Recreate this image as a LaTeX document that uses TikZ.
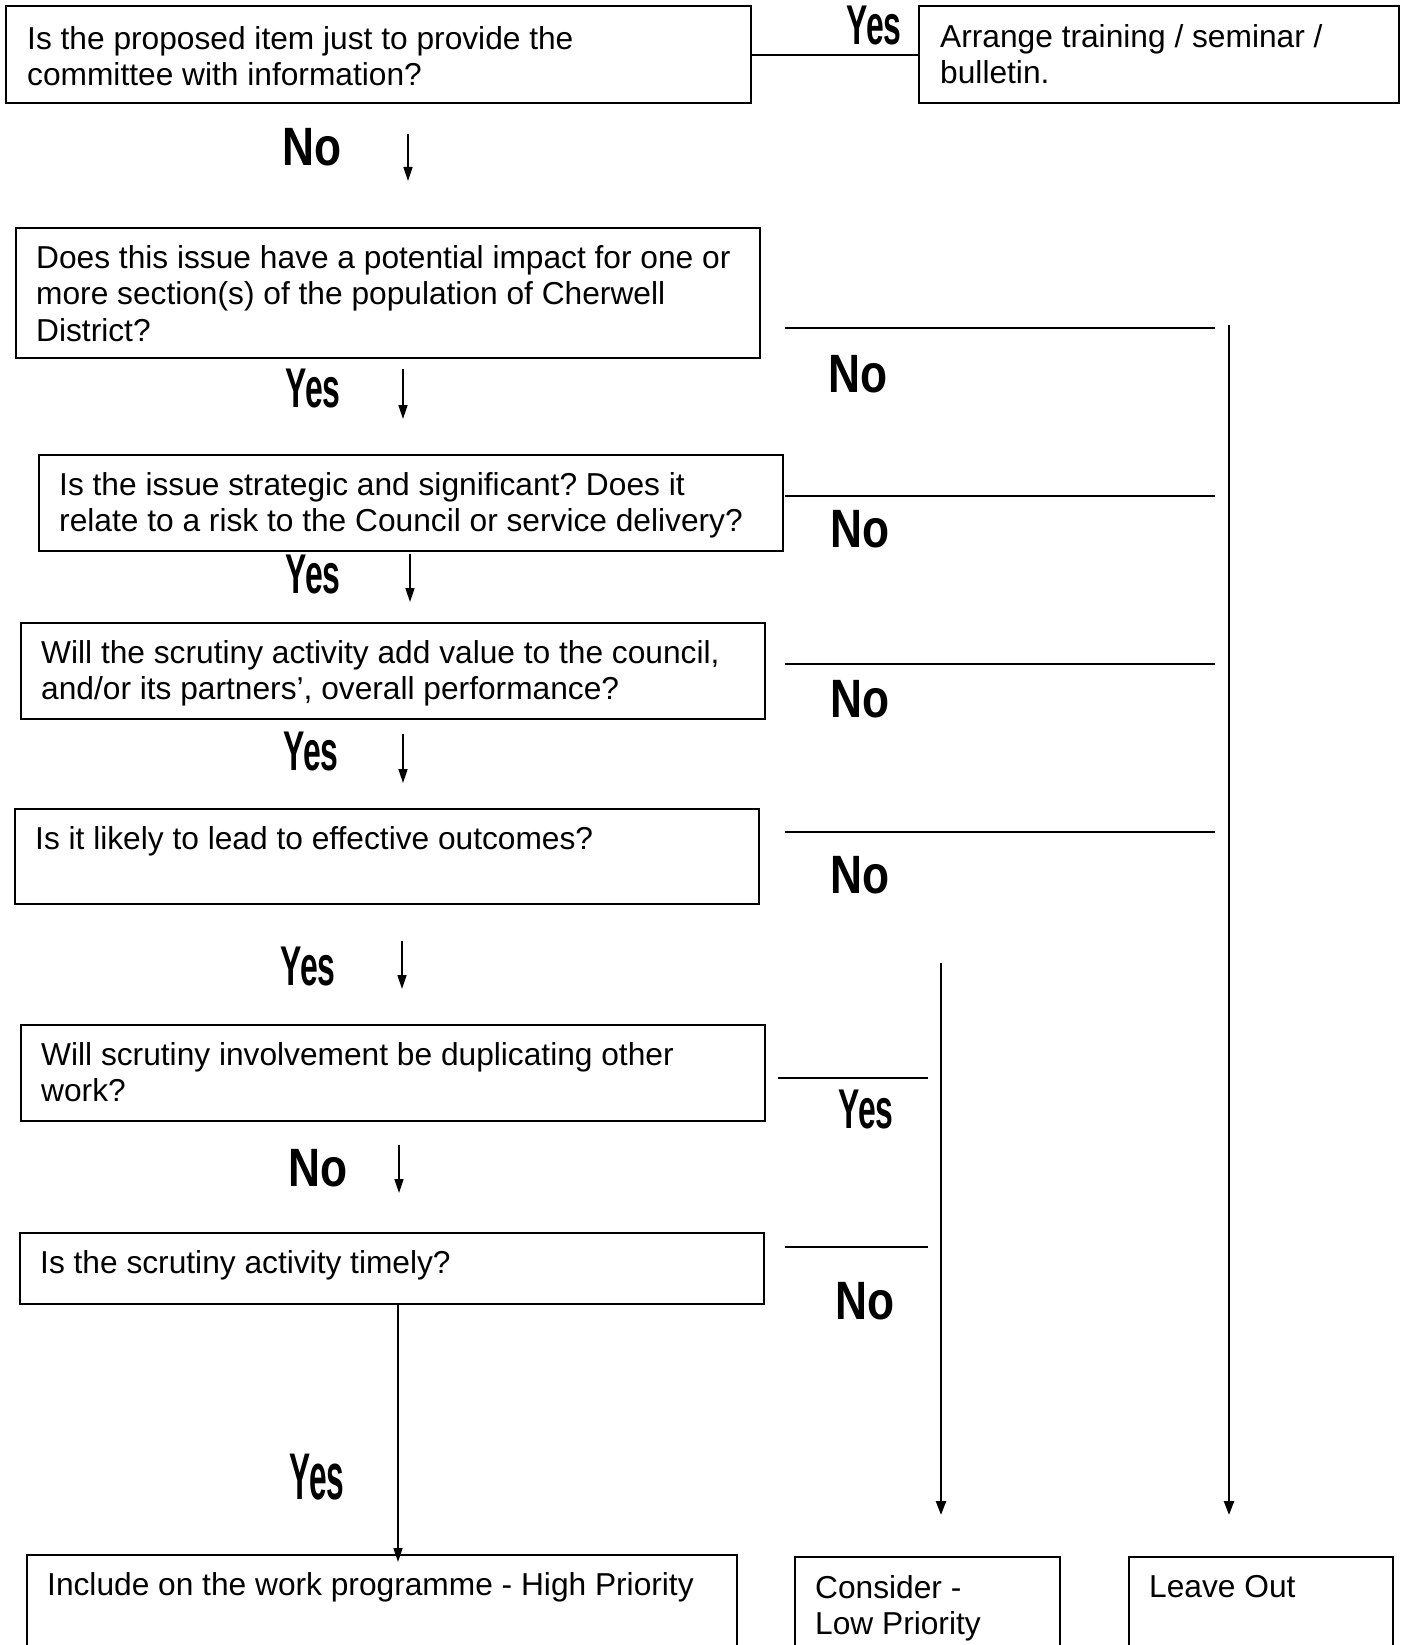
\documentclass[tikz,border=0pt]{standalone}
\usepackage{fontspec}
\setmainfont{Liberation Sans}
\newfontfamily\yesfont{Liberation Sans}[FakeStretch=0.57]
\newfontfamily\bigyesfont{Liberation Sans}[FakeStretch=0.48]
\newfontfamily\nofont{Liberation Sans}[FakeStretch=0.82]
\usetikzlibrary{arrows.meta}
\frenchspacing
\tikzset{
  box/.style={draw, line width=1.8pt, inner sep=0pt, anchor=north west},
  txt/.style={font=\fontsize{31.7}{36.7}\selectfont, align=left, anchor=north west, inner sep=0pt},
  nolab/.style={font=\nofont\bfseries\fontsize{54}{60}\selectfont, inner sep=0pt},
  yeslab/.style={font=\yesfont\bfseries\fontsize{56}{60}\selectfont, inner sep=0pt},
  bigyeslab/.style={font=\bigyesfont\bfseries\fontsize{66}{70}\selectfont, inner sep=0pt},
  ln/.style={line width=1.8pt},
  vln/.style={line width=2.4pt, -{Triangle[length=14pt,width=10pt]}},
  arr/.style={line width=1.6pt, -{Triangle[length=14pt,width=9pt]}}
}
\begin{document}
\begin{tikzpicture}[x=1pt,y=-1pt]
\useasboundingbox (0,0) rectangle (1405,1645);
% boxes
\node[box, line width=2.4pt, minimum width=745pt, minimum height=97pt] (q1) at (5,5) {};
\node[box, line width=2.4pt, minimum width=480pt, minimum height=97pt] (info) at (918,5) {};
\node[box, minimum width=744pt, minimum height=130pt] (q2) at (15,227) {};
\node[box, minimum width=744pt, minimum height=96pt] (q3) at (38,454) {};
\node[box, minimum width=744pt, minimum height=96pt] (q4) at (20,622) {};
\node[box, minimum width=744pt, minimum height=95pt] (q5) at (14,808) {};
\node[box, minimum width=744pt, minimum height=96pt] (q6) at (20,1024) {};
\node[box, minimum width=744pt, minimum height=71pt] (q7) at (19,1232) {};
\node[box, minimum width=710pt, minimum height=120pt] (hi) at (26,1554) {};
\node[box, minimum width=265pt, minimum height=120pt] (lo) at (794,1556) {};
\node[box, minimum width=264pt, minimum height=120pt] (out) at (1128,1556) {};
% texts
\node[txt] (q1t) at (27,26) {Is the proposed item just to provide the\\committee with information?};
\node[txt] (infot) at (940,24) {Arrange training / seminar /\\bulletin.};
\node[txt] (q2t) at (36,245) {Does this issue have a potential impact for one or\\more section(s) of the population of Cherwell\\District?};
\node[txt] (q3t) at (59,472) {Is the issue strategic and significant? Does it\\relate to a risk to the Council or service delivery?};
\node[txt] (q4t) at (41,640) {Will the scrutiny activity add value to the council,\\and/or its partners', overall performance?};
\node[txt] (q5t) at (35,826) {Is it likely to lead to effective outcomes?};
\node[txt] (q6t) at (41,1042) {Will scrutiny involvement be duplicating other\\work?};
\node[txt] (q7t) at (40,1250) {Is the scrutiny activity timely?};
\node[txt] (hit) at (47,1572) {Include on the work programme - High Priority};
\node[txt] (lot) at (815,1575) {Consider -\\Low Priority};
\node[txt] (outt) at (1149,1575) {Leave Out};
% labels
\node[yeslab] (y0) at (874,26) {Yes};
\node[nolab] (n0) at (312,147) {No};
\node[yeslab] (y1) at (313,389) {Yes};
\node[yeslab] (y2) at (313,575) {Yes};
\node[yeslab] (y3) at (311,752) {Yes};
\node[yeslab] (y4) at (308,966) {Yes};
\node[nolab] (n5) at (318,1168) {No};
\node[bigyeslab] (y6) at (317,1477) {Yes};
\node[nolab] (r1) at (858,374) {No};
\node[nolab] (r2) at (860,529) {No};
\node[nolab] (r3) at (860,699) {No};
\node[nolab] (r4) at (860,875) {No};
\node[yeslab] (r5) at (866,1109) {Yes};
\node[nolab] (r6) at (865,1301) {No};
% coordinates
\coordinate (a0s) at (408,134); \coordinate (a0e) at (408,181);
\coordinate (a1s) at (403,369); \coordinate (a1e) at (403,419);
\coordinate (a2s) at (410,554); \coordinate (a2e) at (410,602);
\coordinate (a3s) at (403,734); \coordinate (a3e) at (403,783);
\coordinate (a4s) at (402,941); \coordinate (a4e) at (402,989);
\coordinate (a5s) at (399,1145); \coordinate (a5e) at (399,1193);
\coordinate (h1s) at (785,328); \coordinate (h1e) at (1215,328);
\coordinate (h2s) at (785,496); \coordinate (h2e) at (1215,496);
\coordinate (h3s) at (785,664); \coordinate (h3e) at (1215,664);
\coordinate (h4s) at (785,832); \coordinate (h4e) at (1215,832);
\coordinate (m1s) at (778,1078); \coordinate (m1e) at (928,1078);
\coordinate (m2s) at (785,1247); \coordinate (m2e) at (928,1247);
\coordinate (v1s) at (1229,325); \coordinate (v1e) at (1229,1515);
\coordinate (v2s) at (941,963); \coordinate (v2e) at (941,1515);
\coordinate (ys) at (398,1303); \coordinate (ye) at (398,1562);
% connectors
\draw[ln] (q1.east) -- (info.west);
\foreach \a in {a0,a1,a2,a3,a4,a5} {\draw[arr] (\a s) -- (\a e);}
\foreach \h in {h1,h2,h3,h4,m1,m2} {\draw[ln] (\h s) -- (\h e);}
\draw[vln] (v1s) -- (v1e);
\draw[vln] (v2s) -- (v2e);
\draw[arr] (ys) -- (ye);
\end{tikzpicture}
\end{document}
